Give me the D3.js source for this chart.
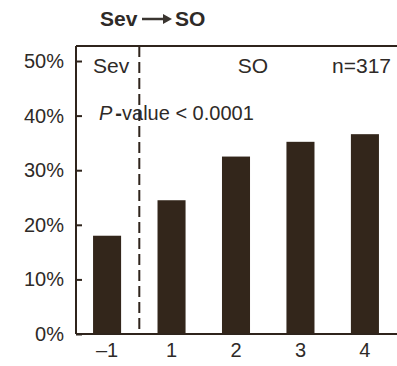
<!DOCTYPE html>
<html>
<head>
<meta charset="utf-8">
<script src="https://cdn.jsdelivr.net/npm/d3@7"></script>
<style>
  body { margin: 0; background: #fff; }
  text { font-family: "Liberation Sans", Arial, sans-serif; fill: #2e2a27; }
</style>
</head>
<body>
<script>
// data
var periods = ["–1", "1", "2", "3", "4"];
var shares = [18.0, 24.5, 32.5, 35.2, 36.6];
var yTicks = [0, 10, 20, 30, 40, 50];

var W = 397, H = 366;
var plotLeft = 76, plotTop = 46, plotBottom = 334;
var ink = "#2f241c";

var svg = d3.select("body").append("svg").attr("width", W).attr("height", H);

var x = d3.scaleBand().domain(periods).range([plotLeft - 1, W]).paddingInner(0.565).paddingOuter(0.28);
var y = d3.scaleLinear().domain([0, 52.75]).range([plotBottom, plotTop]);

// bars
svg.selectAll("rect.bar").data(shares).enter().append("rect")
    .attr("class", "bar")
    .attr("x", function (d, i) { return x(periods[i]); })
    .attr("y", function (d) { return y(d); })
    .attr("width", x.bandwidth())
    .attr("height", function (d) { return plotBottom - y(d); })
    .attr("fill", "#33261b");

// frame: top and bottom lines run to the right edge, no right side
svg.append("line").attr("x1", plotLeft).attr("x2", W).attr("y1", plotTop).attr("y2", plotTop)
    .attr("stroke", ink).attr("stroke-width", 2);
svg.append("line").attr("x1", plotLeft).attr("x2", W).attr("y1", plotBottom).attr("y2", plotBottom)
    .attr("stroke", ink).attr("stroke-width", 2);

// y axis, ticks pointing inward
var yAxis = svg.append("g").attr("transform", "translate(" + plotLeft + ",0)")
    .call(d3.axisLeft(y).tickValues(yTicks).tickSize(-6).tickPadding(12)
        .tickFormat(function (d) { return d + "%"; }));
yAxis.select(".domain").attr("stroke", ink).attr("stroke-width", 2)
    .attr("d", "M0," + plotTop + "V" + plotBottom);
yAxis.selectAll(".tick line").attr("stroke", ink).attr("stroke-width", 2);
yAxis.selectAll(".tick text").attr("font-size", 20).attr("fill", "#2e2a27")
    .attr("font-family", "Liberation Sans, Arial, sans-serif");

// x labels
var xAxis = svg.append("g").attr("transform", "translate(0," + plotBottom + ")")
    .call(d3.axisBottom(x).tickSize(0).tickPadding(9));
xAxis.select(".domain").remove();
xAxis.selectAll(".tick text").attr("font-size", 20).attr("fill", "#2e2a27")
    .attr("font-family", "Liberation Sans, Arial, sans-serif");

// dashed divider between the Sev period and SO periods
var divX = (x("–1") + x.bandwidth() + x("1")) / 2;
svg.append("line").attr("x1", divX).attr("x2", divX).attr("y1", plotTop).attr("y2", plotBottom)
    .attr("stroke", ink).attr("stroke-width", 2).attr("stroke-dasharray", "11,5");

// annotations
svg.append("text").attr("x", 93).attr("y", 73).attr("font-size", 21).text("Sev");
svg.append("text").attr("x", 253).attr("y", 73).attr("font-size", 21)
    .attr("text-anchor", "middle").text("SO");
svg.append("text").attr("x", 391).attr("y", 73).attr("font-size", 21)
    .attr("text-anchor", "end").text("n=317");

var pv = svg.append("text").attr("x", 99).attr("y", 120).attr("font-size", 20);
pv.append("tspan").attr("font-style", "italic").text("P");
pv.append("tspan").attr("dx", 3).attr("font-weight", "bold").text("-");
pv.append("tspan").text("value < 0.0001");

// title with arrow
svg.append("text").attr("x", 100).attr("y", 26).attr("font-size", 21)
    .attr("font-weight", "bold").text("Sev");
svg.append("text").attr("x", 175).attr("y", 26).attr("font-size", 21)
    .attr("font-weight", "bold").text("SO");
svg.append("line").attr("x1", 142).attr("x2", 164).attr("y1", 19).attr("y2", 19)
    .attr("stroke", "#3a3530").attr("stroke-width", 2.5);
svg.append("path").attr("d", "M163,14L172,19L163,24Z").attr("fill", "#3a3530");
</script>
</body>
</html>
